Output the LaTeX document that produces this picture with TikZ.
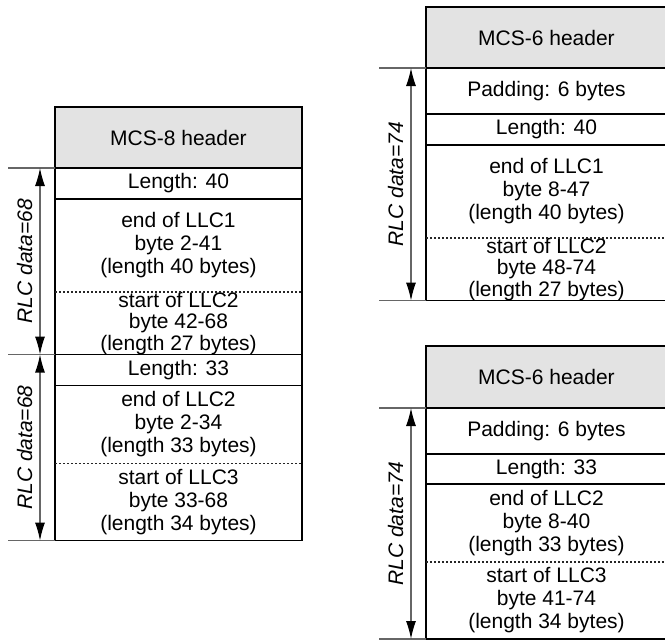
\documentclass[tikz,border=0pt]{standalone}
\usepackage{fontspec}
\setmainfont{Liberation Sans}
\usetikzlibrary{arrows.meta,positioning}

\begin{document}
\begin{tikzpicture}[x=1pt, y=-1pt,
    cell/.style={draw, line width=1.4pt, inner sep=0pt, outer sep=0pt,
                 align=center, font=\fontsize{21}{23}\selectfont},
    hdr/.style={cell, fill=black!11, minimum height=61pt},
    len/.style={cell, minimum height=31pt},
    pad/.style={cell, minimum height=46pt},
    part/.style={cell, draw=none},
    tight/.style={part, font=\fontsize{21}{21.5}\selectfont},
    frame/.style={line width=1.4pt},
    sep/.style={black!85, line width=1.1pt, dash pattern=on 2.2pt off 1.8pt},
    tick/.style={black!60, line width=1.2pt},
    dim/.style={black!60, line width=1.2pt, <->,
                >={Latex[length=18pt,width=10pt,color=black]}},
    lbl/.style={rotate=90, anchor=south, inner sep=7pt, text=black,
                font=\fontsize{21}{23}\selectfont\itshape}
  ]
  \useasboundingbox (0,0) rectangle (665,640);
  \clip (0,0) rectangle (665,640);

  % MCS-8 block
  \begin{scope}[nodes={minimum width=247pt}]
    \node[hdr, anchor=north west] (hdrA) at (55,107) {MCS-8 header};
    \node[len, below=0pt of hdrA] (lenA1) {Length: 40};
    \node[part, below=0pt of lenA1, minimum height=93pt] (endA1)
      {end of LLC1\\byte 2-41\\(length 40 bytes)};
    \node[tight, below=0pt of endA1, minimum height=61pt] (startA2)
      {start of LLC2\\byte 42-68\\(length 27 bytes)};
    \node[len, below=0pt of startA2] (lenA2) {Length: 33};
    \node[part, below=0pt of lenA2, minimum height=78pt] (endA2)
      {end of LLC2\\byte 2-34\\(length 33 bytes)};
    \node[part, below=0pt of endA2, minimum height=77pt] (startA3)
      {start of LLC3\\byte 33-68\\(length 34 bytes)};
  \end{scope}

  % MCS-6 blocks
  \begin{scope}[nodes={minimum width=241pt}]
    \node[hdr, anchor=north west] (hdrB) at (426,7) {MCS-6 header};
    \node[pad, below=0pt of hdrB] (padB) {Padding: 6 bytes};
    \node[len, below=0pt of padB] (lenB) {Length: 40};
    \node[part, below=0pt of lenB, minimum height=93pt] (endB)
      {end of LLC1\\byte 8-47\\(length 40 bytes)};
    \node[tight, below=0pt of endB, minimum height=62pt] (startB)
      {start of LLC2\\byte 48-74\\(length 27 bytes)};

    \node[hdr, anchor=north west, minimum height=62pt] (hdrC) at (426,346)
      {MCS-6 header};
    \node[pad, below=0pt of hdrC] (padC) {Padding: 6 bytes};
    \node[len, below=0pt of padC, minimum height=30pt] (lenC) {Length: 33};
    \node[part, below=0pt of lenC, minimum height=78pt] (endC)
      {end of LLC2\\byte 8-40\\(length 33 bytes)};
    \node[part, below=0pt of endC, minimum height=77pt] (startC)
      {start of LLC3\\byte 41-74\\(length 34 bytes)};
  \end{scope}

  % frames round the split LLC cells, dashed split
  \foreach \e/\s in {endA1/startA2, endA2/startA3, endB/startB, endC/startC} {
    \draw[frame] (\e.north west) rectangle (\s.south east);
    \draw[sep] (\e.south west) -- (\e.south east);
  }

  % RLC data extents
  \foreach \n in {hdrA, startA2, startA3, hdrB, startB, hdrC, startC}
    \draw[tick] (\n.south west) -- ++(-47pt,0);
  \draw[dim] ([xshift=-15pt]hdrA.south west) -- node[lbl] {RLC data=68}
    ([xshift=-15pt]startA2.south west);
  \draw[dim] ([xshift=-15pt]startA2.south west) -- node[lbl] {RLC data=68}
    ([xshift=-15pt]startA3.south west);
  \draw[dim] ([xshift=-15pt]hdrB.south west) -- node[lbl] {RLC data=74}
    ([xshift=-15pt]startB.south west);
  \draw[dim] ([xshift=-15pt]hdrC.south west) -- node[lbl] {RLC data=74}
    ([xshift=-15pt]startC.south west);
\end{tikzpicture}
\end{document}
